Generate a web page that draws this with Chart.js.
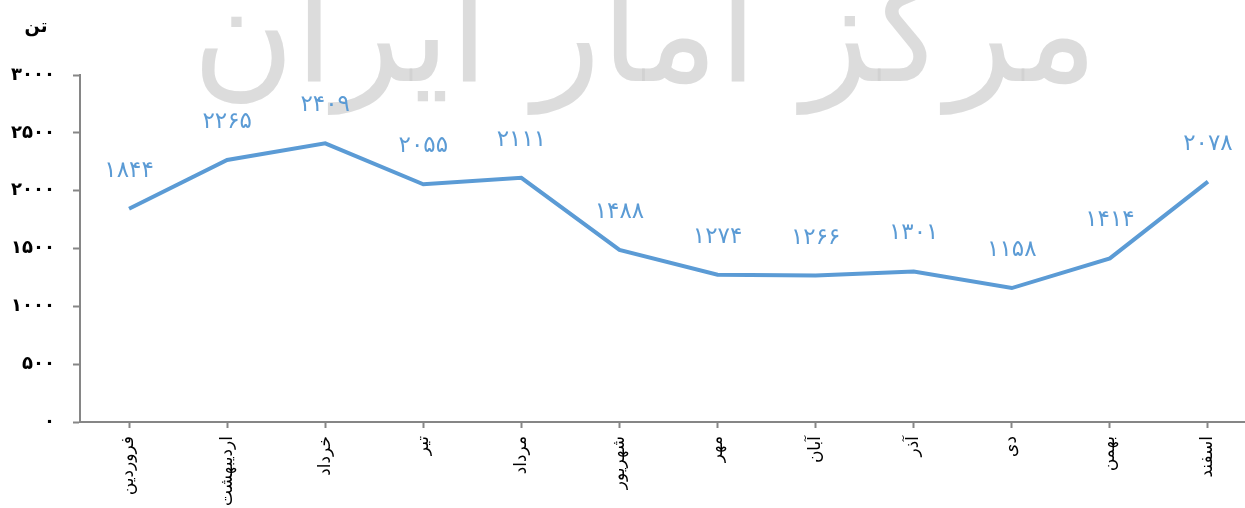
<!DOCTYPE html>
<html>
<head>
<meta charset="utf-8">
<script src="https://cdn.jsdelivr.net/npm/chart.js@4/dist/chart.umd.min.js"></script>
<style>
  html, body { margin: 0; padding: 0; background: #fff; overflow: hidden; }
  #wrap { width: 1257px; height: 508px; }
</style>
</head>
<body>
<div id="wrap"><canvas id="chart" width="1257" height="508"></canvas></div>
<script>
const months = ['فروردین', 'اردیبهشت', 'خرداد', 'تیر', 'مرداد', 'شهریور', 'مهر', 'آبان', 'آذر', 'دی', 'بهمن', 'اسفند'];
const tons = [1844, 2265, 2409, 2055, 2111, 1488, 1274, 1266, 1301, 1158, 1414, 2078];
const unitLabel = 'تن';
const watermark = 'مرکز آمار ایران';

const faDigits = '۰۱۲۳۴۵۶۷۸۹';
function toFa(n) {
    return String(n).replace(/[0-9]/g, d => faDigits[d]);
}

const blue = '#5B9BD5';
const axisGray = '#868686';

const extras = {
    id: 'extras',
    beforeDatasetsDraw(chart) {
        // faint watermark behind the line
        const ctx = chart.ctx;
        ctx.save();
        ctx.fillStyle = 'rgba(205, 205, 205, 0.7)';
        ctx.font = '140px "DejaVu Sans"';
        ctx.textAlign = 'center';
        ctx.textBaseline = 'middle';
        ctx.fillText(watermark, 645, 45);
        ctx.restore();
    },
    afterDatasetsDraw(chart) {
        const ctx = chart.ctx;
        const meta = chart.getDatasetMeta(0);
        ctx.save();
        ctx.fillStyle = blue;
        ctx.font = '23px "DejaVu Sans"';
        ctx.textAlign = 'center';
        ctx.textBaseline = 'middle';
        meta.data.forEach((pt, i) => {
            ctx.fillText(toFa(tons[i]), pt.x, pt.y - 38);
        });
        ctx.fillStyle = '#000';
        ctx.font = 'bold 18px "DejaVu Sans"';
        ctx.fillText(unitLabel, 36, 27);
        ctx.restore();
    }
};

new Chart(document.getElementById('chart'), {
    type: 'line',
    data: {
        labels: months,
        datasets: [{
            data: tons,
            borderColor: blue,
            borderWidth: 4,
            pointRadius: 0,
            tension: 0,
            fill: false
        }]
    },
    options: {
        responsive: false,
        animation: false,
        events: [],
        layout: { padding: { top: 75, right: 0, left: 0, bottom: 0 } },
        plugins: {
            legend: { display: false },
            tooltip: { enabled: false }
        },
        scales: {
            x: {
                offset: true,
                grid: {
                    offset: false,
                    drawOnChartArea: false,
                    drawTicks: true,
                    tickLength: 6,
                    tickColor: axisGray,
                    tickWidth: 2
                },
                border: { color: axisGray, width: 2 },
                ticks: {
                    color: '#000',
                    font: { family: '"DejaVu Sans"', size: 17 },
                    minRotation: 90,
                    maxRotation: 90,
                    autoSkip: false,
                    padding: 8
                },
                afterFit(scale) { scale.height = 86; }
            },
            y: {
                min: 0,
                max: 3000,
                grid: {
                    drawOnChartArea: false,
                    drawTicks: true,
                    tickLength: 7,
                    tickColor: axisGray,
                    tickWidth: 2
                },
                border: { color: axisGray, width: 2 },
                ticks: {
                    stepSize: 500,
                    color: '#000',
                    font: { family: '"DejaVu Sans"', size: 18, weight: 'bold' },
                    padding: 18,
                    callback: v => toFa(v)
                },
                afterFit(scale) { scale.width = 80; }
            }
        }
    },
    plugins: [extras]
});
</script>
</body>
</html>
